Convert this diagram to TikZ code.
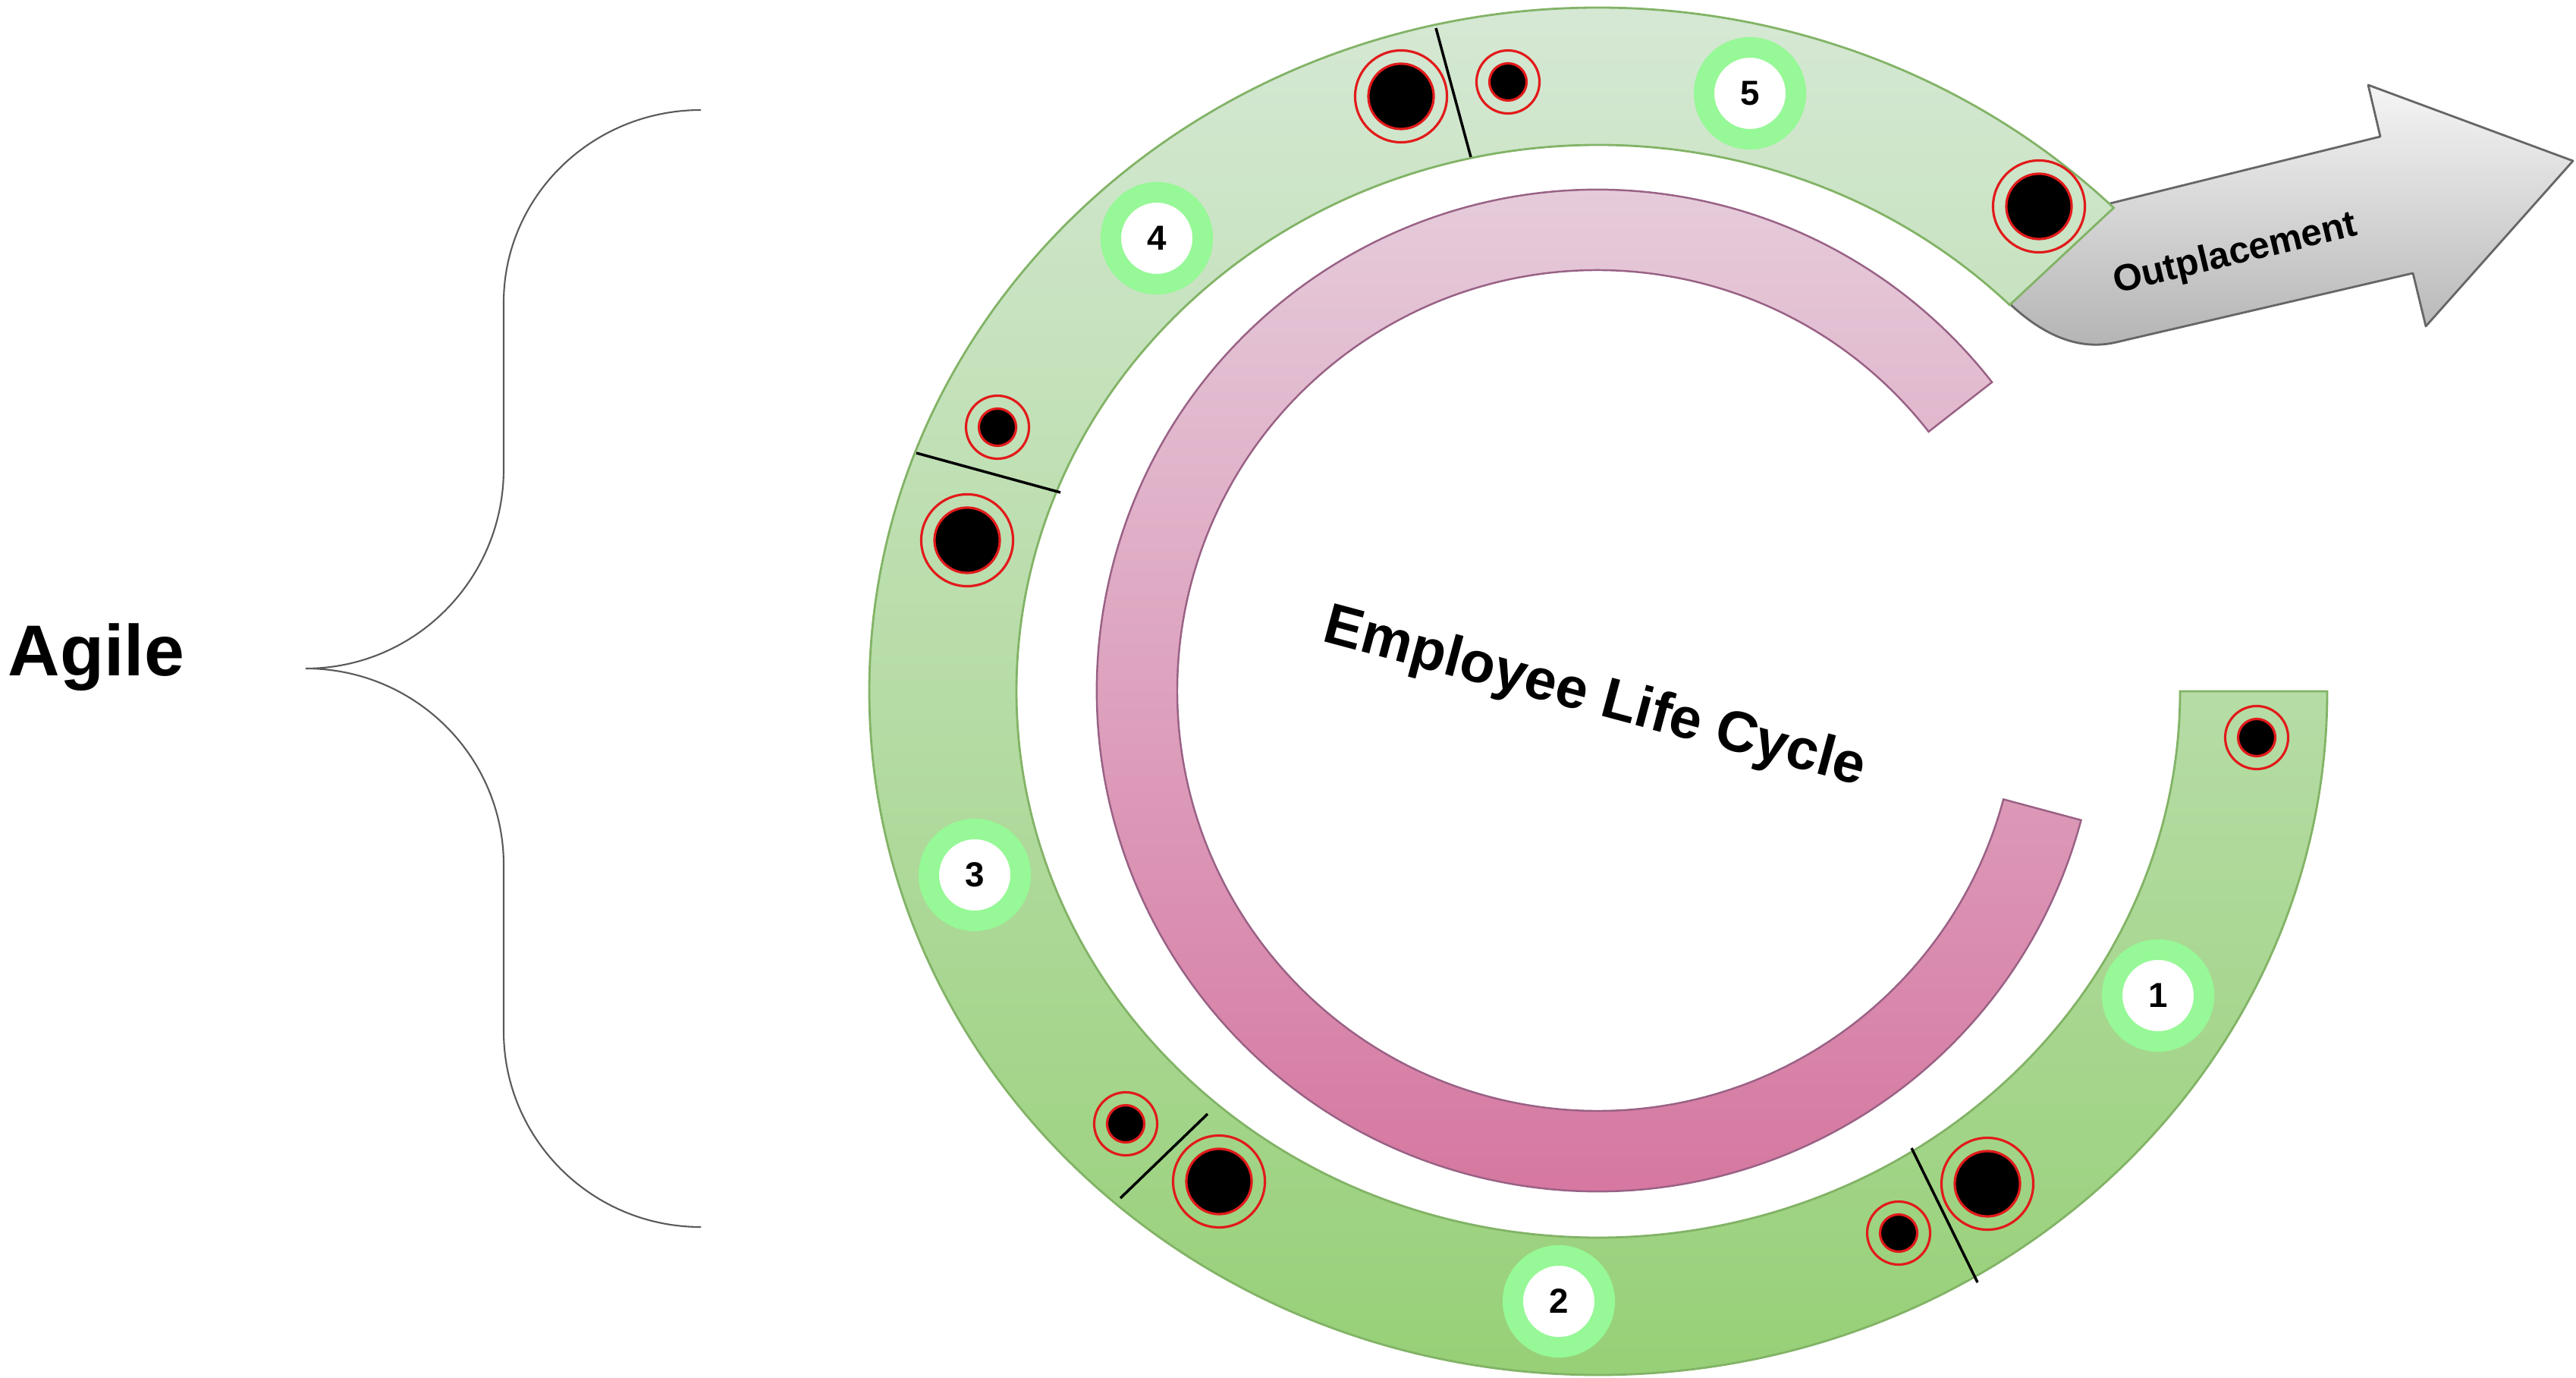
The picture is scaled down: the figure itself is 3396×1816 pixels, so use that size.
\documentclass[tikz,border=0pt]{standalone}
\usepackage{fontspec}
\setmainfont{Liberation Sans}
\definecolor{ringtop}{HTML}{D5E8D4}
\definecolor{ringbot}{HTML}{97D077}
\definecolor{ringstroke}{HTML}{82B366}
\definecolor{pinktop}{HTML}{E6D0DE}
\definecolor{pinkbot}{HTML}{D5739D}
\definecolor{pinkstroke}{HTML}{996185}
\definecolor{arrtop}{HTML}{F5F5F5}
\definecolor{arrbot}{HTML}{B3B3B3}
\definecolor{arrstroke}{HTML}{666666}
\definecolor{numgreen}{RGB}{150,248,150}
\definecolor{dotred}{HTML}{E21A1A}
\definecolor{bracegray}{HTML}{5A5A5A}
\begin{document}
\begin{tikzpicture}[x=0.01cm,y=-0.01cm,
  ring/.style={draw=ringstroke,line width=0.8pt,top color=ringtop,bottom color=ringbot},
  pinkband/.style={draw=pinkstroke,line width=0.7pt,top color=pinktop,bottom color=pinkbot},
  outarrow/.style={draw=arrstroke,line width=0.8pt,top color=arrtop,bottom color=arrbot,line join=round},
  divider/.style={draw=black,line width=1pt},
  bigdot/.style={circle,fill=black,draw=dotred,line width=0.9pt,minimum size=0.86cm,inner sep=0pt},
  smalldot/.style={circle,fill=black,draw=dotred,line width=0.9pt,minimum size=0.49cm,inner sep=0pt},
  bigring/.style={circle,draw=dotred,line width=0.9pt,minimum size=1.21cm,inner sep=0pt},
  smallring/.style={circle,draw=dotred,line width=0.9pt,minimum size=0.83cm,inner sep=0pt},
  numcircle/.style={circle,fill=white,draw=numgreen,line width=7.7pt,minimum size=1.21cm,inner sep=0pt,font=\bfseries\fontsize{13}{13}\selectfont},
  bracestyle/.style={draw=bracegray,line width=0.6pt},
]
\useasboundingbox (0,0) rectangle (3396,1816);

% Outplacement arrow (drawn first, ring covers the joint)
\draw[outarrow] (2782,268) -- (3138,180) -- (3122,112) -- (3392,212) -- (3198,430)
  -- (3181,360) -- (2790,451) .. controls (2744,462) and (2696,445) .. (2647,398) -- cycle;

% Green elliptical ring
\draw[ring] (3068,911) arc[start angle=0,end angle=315,x radius=961,y radius=901]
  -- ([shift={(2107,911)}]315:767 and 720)
  arc[start angle=315,end angle=0,x radius=767,y radius=720] -- cycle;

% Pink inner arc
\draw[pinkband] ([shift={(2106,910)}]15:660) arc[start angle=15,end angle=322,radius=660]
  -- ([shift={(2106,910)}]322:554) arc[start angle=322,end angle=15,radius=554] -- cycle;

% Dividers
\draw[divider] (1893,37) -- (1939,207);
\draw[divider] (1208,597) -- (1398,649);
\draw[divider] (1477,1579) -- (1592,1468);
\draw[divider] (2520,1513) -- (2607,1690);

% Dots
\foreach \n/\x/\y in {a/2688/272, b/1847/127, c/1275/712, d/1607/1557, e/2620/1560}{
  \node[bigdot] (bd\n) at (\x,\y) {};
  \node[bigring] (br\n) at (bd\n) {};
}
\foreach \n/\x/\y in {a/2975/972, b/1988/108, c/1315/563, d/1484/1481, e/2503/1625}{
  \node[smalldot] (sd\n) at (\x,\y) {};
  \node[smallring] (sr\n) at (sd\n) {};
}

% Numbered circles
\node[numcircle] (n1) at (2845,1312) {1};
\node[numcircle] (n2) at (2055,1715) {2};
\node[numcircle] (n3) at (1285,1153) {3};
\node[numcircle] (n4) at (1525,314) {4};
\node[numcircle] (n5) at (2307,123) {5};

% Texts
\node[anchor=base,inner sep=0pt,rotate=13.5,font=\bfseries\fontsize{14}{15}\selectfont] (outtxt) at (2950,348) {Outplacement};
\node[anchor=base,inner sep=0pt,rotate=-15,font=\bfseries\fontsize{21.5}{22}\selectfont] (elc) at (2097,940) {Employee Life Cycle};
\node[anchor=base west,inner sep=0pt,font=\bfseries\fontsize{27}{28}\selectfont] (agile) at (10,891) {Agile};

% Curly brace
\draw[bracestyle] (924,145) arc[start angle=270,end angle=180,x radius=260,y radius=254]
  -- (664,618) arc[start angle=0,end angle=90,x radius=261,y radius=263]
  arc[start angle=270,end angle=360,x radius=261,y radius=259]
  -- (664,1359) arc[start angle=180,end angle=90,x radius=260,y radius=258];
\end{tikzpicture}
\end{document}
